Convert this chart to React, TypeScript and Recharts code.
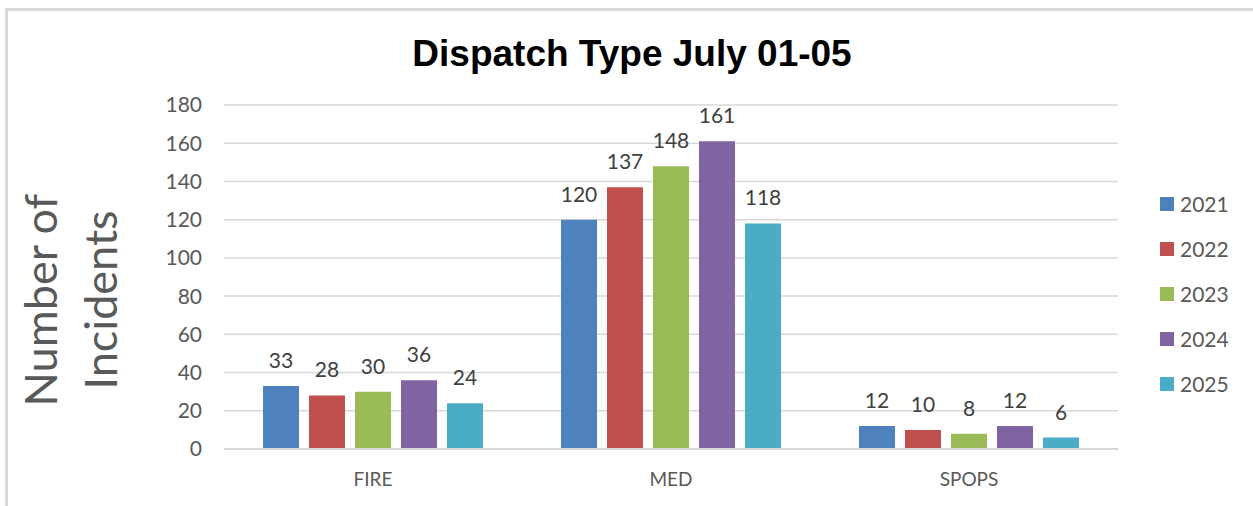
import React from 'react';
import { BarChart, Bar, XAxis, YAxis, CartesianGrid, Legend, LabelList } from 'recharts';

// categories and yearly counts
const categories = ['FIRE', 'MED', 'SPOPS'];
const y2021 = [33, 120, 12];
const y2022 = [28, 137, 10];
const y2023 = [30, 148, 8];
const y2024 = [36, 161, 12];
const y2025 = [24, 118, 6];
const yTicks = [0, 20, 40, 60, 80, 100, 120, 140, 160, 180];

const years = [
  { key: 'y2021', name: '2021', color: '#4F81BD' },
  { key: 'y2022', name: '2022', color: '#C0504D' },
  { key: 'y2023', name: '2023', color: '#9BBB59' },
  { key: 'y2024', name: '2024', color: '#8064A2' },
  { key: 'y2025', name: '2025', color: '#4BACC6' },
];

const data = categories.map((c, i) => ({
  category: c,
  y2021: y2021[i],
  y2022: y2022[i],
  y2023: y2023[i],
  y2024: y2024[i],
  y2025: y2025[i],
}));

const FONT = 'Lato, "Open Sans", sans-serif';

const YLabel = () => (
  <g fill="#595959" fontFamily={FONT} fontSize={45}>
    <text x={57} y={300} transform="rotate(-90 57 300)" textAnchor="middle">Number of</text>
    <text x={117} y={300} transform="rotate(-90 117 300)" textAnchor="middle">Incidents</text>
  </g>
);

const LegendBox = (props: any) => {
  const items = props.payload || [];
  return (
    <div style={{ fontFamily: FONT, fontSize: 21, color: '#595959' }}>
      {items.map((it: any) => (
        <div key={it.value} style={{ height: 45, display: 'flex', alignItems: 'center' }}>
          <span style={{ width: 14, height: 14, background: it.color, display: 'inline-block', marginRight: 6 }} />
          <span>{it.value}</span>
        </div>
      ))}
    </div>
  );
};

export default function App() {
  return (
    <div style={{ position: 'absolute', left: 0, top: 0, width: 1253, height: 506, overflow: 'hidden', background: '#fff' }}>
      <div
        style={{
          position: 'absolute', left: 5, top: 8, width: 1400, height: 700,
          borderLeft: '3px solid #d9d9d9', borderTop: '3px solid #d9d9d9',
        }}
      />
      <div
        style={{
          position: 'absolute', left: 0, top: 35, width: 1264, textAlign: 'center',
          fontFamily: '"Liberation Sans", Arial, sans-serif', fontWeight: 'bold',
          fontSize: 37, lineHeight: '37px', color: '#000',
        }}
      >
        Dispatch Type July 01-05
      </div>
      <div style={{ position: 'absolute', left: 0, top: 0 }}>
        <BarChart
          width={1253}
          height={506}
          data={data}
          margin={{ top: 105, right: 135, bottom: 0, left: 0 }}
          barSize={36}
          barGap={10}
        >
          <CartesianGrid horizontal vertical={false} stroke="#d9d9d9" strokeWidth={1.5} />
          <XAxis
            dataKey="category"
            height={57}
            tickLine={false}
            tickSize={0}
            tickMargin={24}
            axisLine={{ stroke: '#d9d9d9', strokeWidth: 2 }}
            tick={{ fill: '#595959', fontSize: 19, fontFamily: FONT }}
          />
          <YAxis
            width={224}
            domain={[0, 180]}
            ticks={yTicks}
            interval={0}
            tickLine={false}
            axisLine={false}
            tickSize={0}
            tickMargin={22}
            tick={{ fill: '#595959', fontSize: 21, fontFamily: FONT }}
            label={{ content: () => <YLabel /> }}
          />
          <Legend
            layout="vertical"
            align="center"
            verticalAlign="middle"
            content={<LegendBox />}
            wrapperStyle={{ position: 'absolute', left: 1160, top: 181, width: 90 }}
          />
          {years.map((y) => (
            <Bar key={y.key} dataKey={y.key} name={y.name} fill={y.color} isAnimationActive={false}>
              <LabelList dataKey={y.key} position="top" offset={18} fill="#404040" fontSize={21} fontFamily={FONT} />
            </Bar>
          ))}
        </BarChart>
      </div>
    </div>
  );
}
